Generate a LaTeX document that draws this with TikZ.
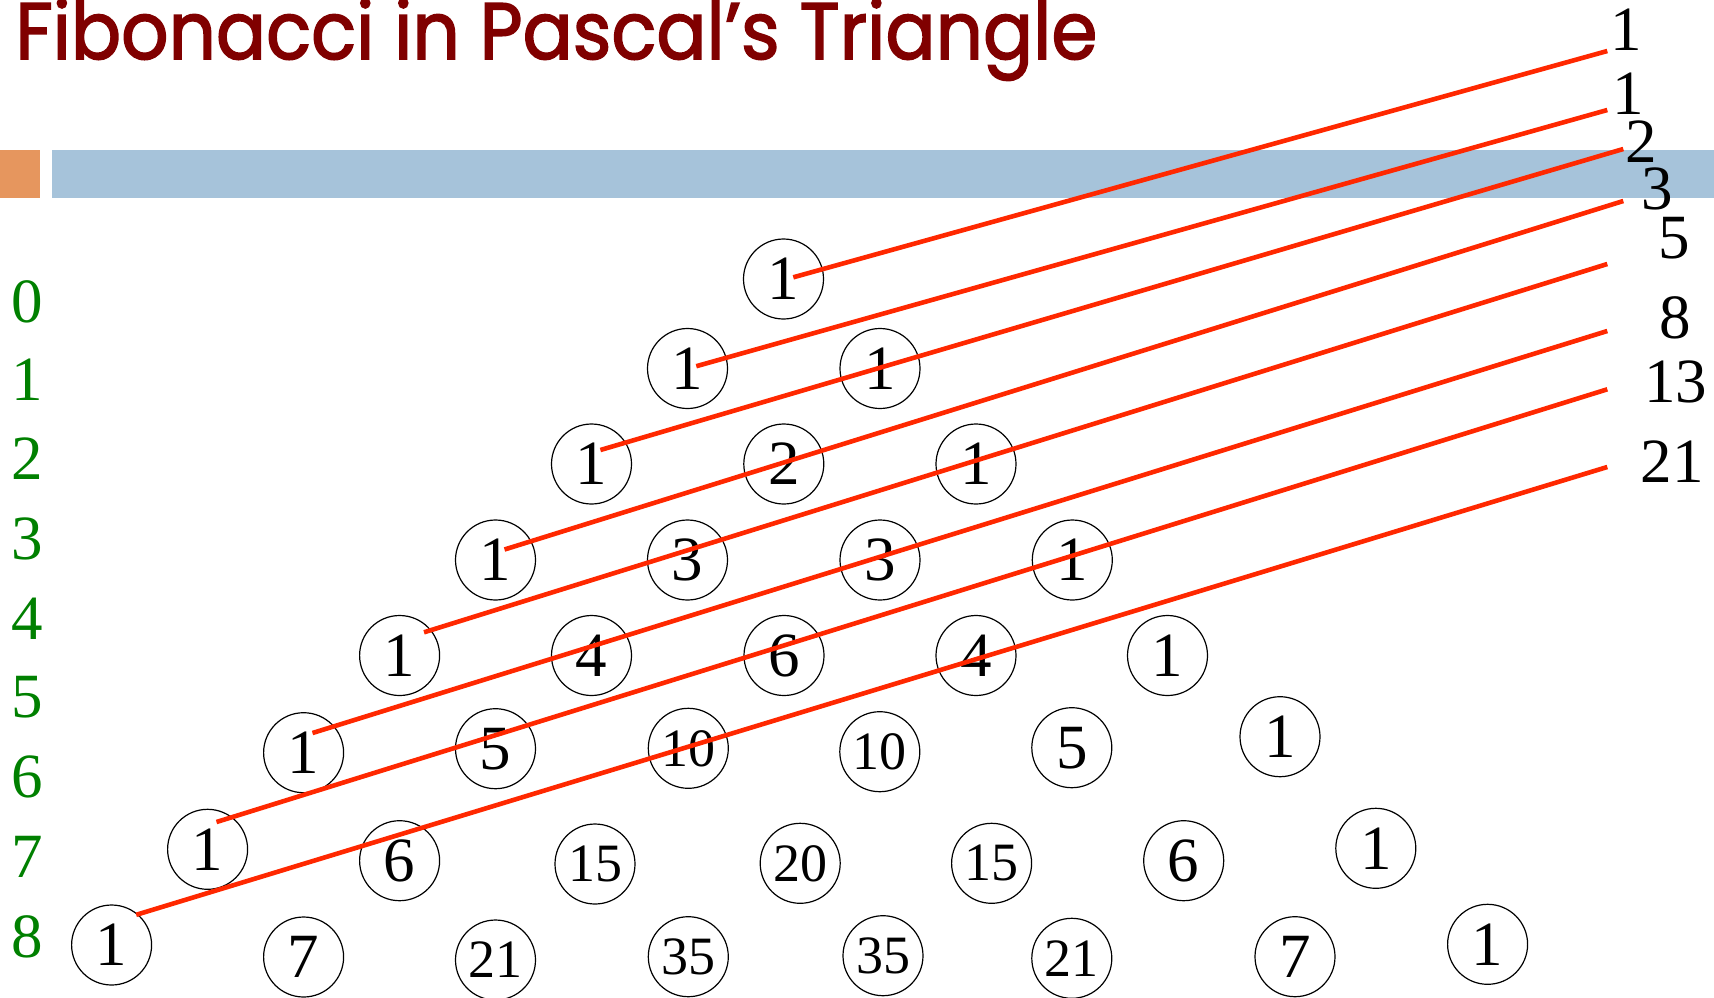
\documentclass[tikz,border=0pt]{standalone}
\usepackage{fontspec}
\usepackage{graphicx}
\setmainfont{Liberation Serif}
\newfontfamily\titlefont[FakeBold=2]{Poppins}
\definecolor{titlered}{RGB}{128,0,0}
\definecolor{barblue}{RGB}{166,195,218}
\definecolor{barorange}{RGB}{230,150,94}
\definecolor{linered}{RGB}{255,40,0}
\definecolor{rowgreen}{RGB}{0,128,0}
\begin{document}
\begin{tikzpicture}[x=0.5pt,y=-0.5pt,
  cell/.style={circle,draw,line width=0.6pt,minimum size=40pt,inner sep=0pt,font=\fontsize{31.5}{31.5}\selectfont},
  cellb/.style={cell,font=\fontsize{27}{27}\selectfont},
  rowlab/.style={text=rowgreen,font=\fontsize{31.5}{31.5}\selectfont,inner sep=0pt},
  fib/.style={font=\fontsize{31.5}{31.5}\selectfont,inner sep=0pt},
  fibline/.style={linered,line width=2.3pt}]
\useasboundingbox (0,0) rectangle (1714,997);
% header bar
\fill[barorange] (0,150) rectangle (40,197.5);
\fill[barblue] (52,150) rectangle (1714,197.5);
% title
\node[anchor=base west,inner sep=0pt,text=titlered] (title) at (15,59)
  {\resizebox{541pt}{\height}{\titlefont\fontsize{40}{40}\selectfont Fibonacci in Pascal’s Triangle}};
% row numbers
\foreach \i/\y in {0/301.8,1/379.3,2/459.1,3/538.9,4/618.7,5/697.4,6/777.2,7/857.0,8/936.8}
  \node[rowlab] (r\i) at (26.8,\y) {\i};
% Pascal triangle
\node[cell] (p00) at (783.5,279) {1};
\node[cell] (p10) at (687.5,368.5) {1};
\node[cell] (p11) at (880,368.5) {1};
\node[cell] (p20) at (591.5,464) {1};
\node[cell] (p21) at (783.8,464) {2};
\node[cell] (p22) at (976,464) {1};
\node[cell] (p30) at (495.5,560) {1};
\node[cell] (p31) at (687.5,560) {3};
\node[cell] (p32) at (880,560) {3};
\node[cell] (p33) at (1072.3,560) {1};
\node[cell] (p40) at (399.6,655.5) {1};
\node[cell] (p41) at (591.5,655.5) {4};
\node[cell] (p42) at (784,655.5) {6};
\node[cell] (p43) at (976,655.5) {4};
\node[cell] (p44) at (1167.5,655.5) {1};
\node[cell] (p50) at (303.6,752.7) {1};
\node[cell] (p51) at (495.5,748.7) {5};
\node[cellb] (p52) at (688.3,748.3) {10};
\node[cellb] (p53) at (879.8,751.7) {10};
\node[cell] (p54) at (1071.8,747.7) {5};
\node[cell] (p55) at (1280,736.7) {1};
\node[cell] (p60) at (207.6,849.3) {1};
\node[cell] (p61) at (399.6,860.7) {6};
\node[cellb] (p62) at (595,864) {15};
\node[cellb] (p63) at (800.2,863.3) {20};
\node[cellb] (p64) at (991.6,863.3) {15};
\node[cell] (p65) at (1183.7,860.7) {6};
\node[cell] (p66) at (1375.8,848.3) {1};
\node[cell] (p70) at (111.6,945) {1};
\node[cell] (p71) at (303.6,957) {7};
\node[cellb] (p72) at (495.5,960) {21};
\node[cellb] (p73) at (688.3,956.7) {35};
\node[cellb] (p74) at (883,955.7) {35};
\node[cellb] (p75) at (1071.8,958.3) {21};
\node[cell] (p76) at (1295,956.7) {7};
\node[cell] (p77) at (1487.6,944.3) {1};
% Fibonacci sums
\node[fib] (f1) at (1626.7,30) {1};
\node[fib] (f2) at (1628,93.3) {1};
\node[fib] (f3) at (1641.7,141.7) {2};
\node[fib] (f4) at (1657.3,189) {3};
\node[fib] (f5) at (1674,237.7) {5};
\node[fib] (f6) at (1675,318.3) {8};
\node[fib] (f7) at (1675.7,381.7) {13};
\node[fib] (f8) at (1672.3,461.7) {21};
% diagonals
\coordinate (s1) at (793.3,277.3);  \coordinate (e1) at (1607.3,51);
\coordinate (s2) at (696.3,366.2);  \coordinate (e2) at (1607.3,110);
\coordinate (s3) at (600.4,450);    \coordinate (e3) at (1623.3,149);
\coordinate (s4) at (504.5,549.5);  \coordinate (e4) at (1623.3,201);
\coordinate (s5) at (424,632.3);    \coordinate (e5) at (1607.3,264);
\coordinate (s6) at (312.5,733);    \coordinate (e6) at (1607.3,331);
\coordinate (s7) at (216.5,822);    \coordinate (e7) at (1607.3,389.3);
\coordinate (s8) at (136.2,914.8);  \coordinate (e8) at (1607.3,467);
\foreach \k in {1,...,8}
  \draw[fibline] (s\k) -- (e\k);
\end{tikzpicture}
\end{document}
